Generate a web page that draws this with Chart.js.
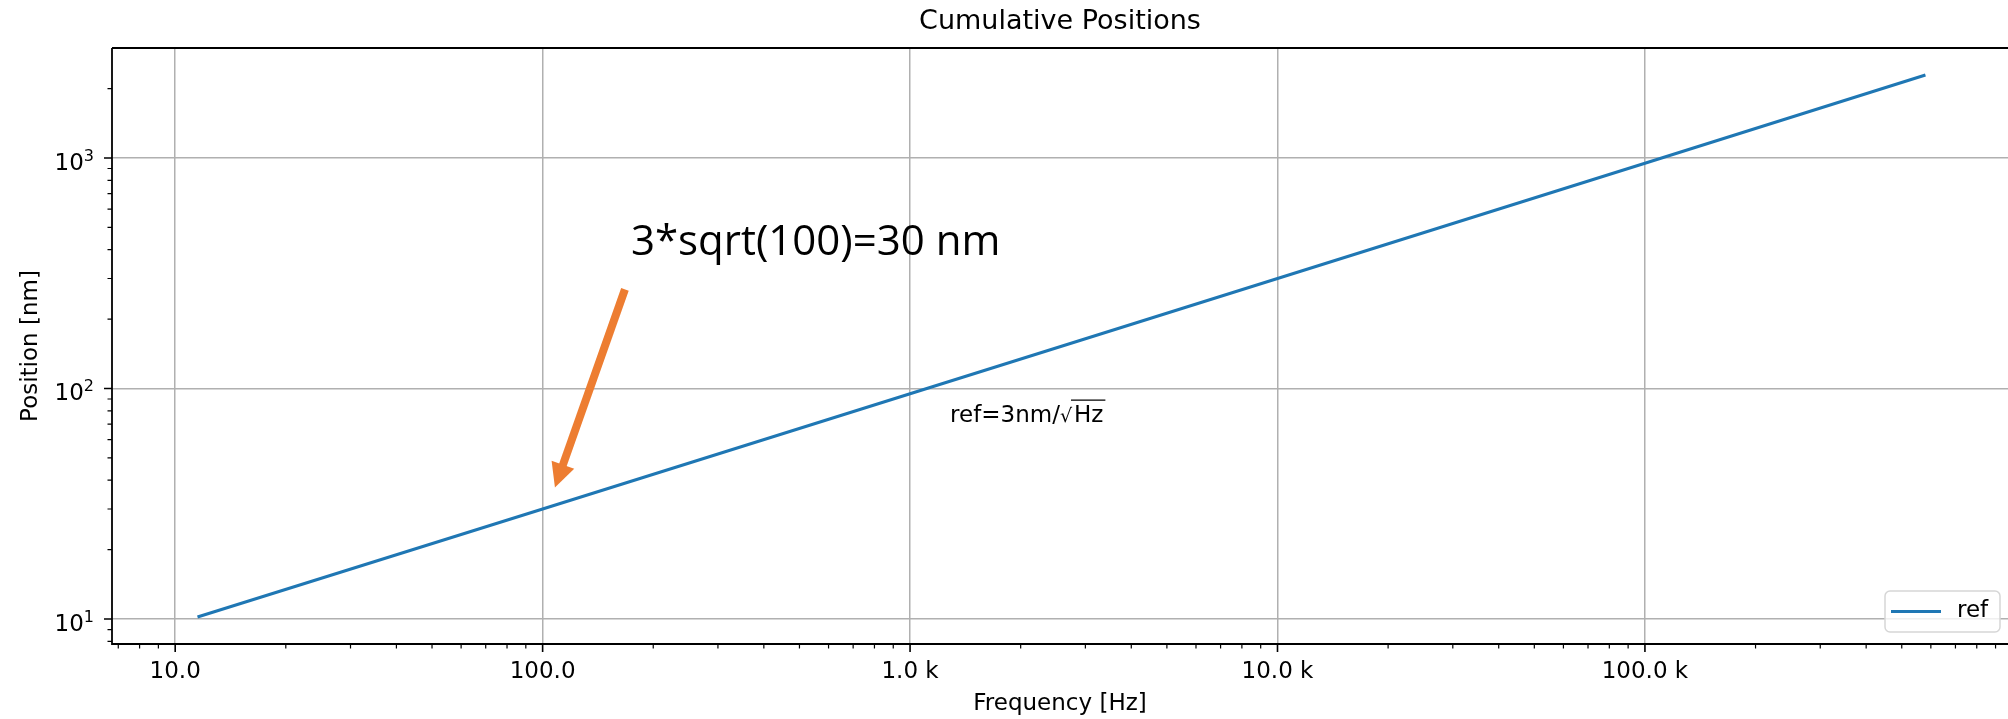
<!DOCTYPE html>
<html>
<head>
<meta charset="utf-8">
<script src="https://cdn.jsdelivr.net/npm/chart.js@4.4.1/dist/chart.umd.min.js"></script>
<style>
  html, body { margin: 0; padding: 0; background: #fff; overflow: hidden; }
  canvas { display: block; }
</style>
</head>
<body>
<canvas id="chart" width="2008" height="719"></canvas>
<script>
// values
const frequencies = [11.5, 100, 1000, 10000, 100000, 580000];
const positions = [10.2, 30.0, 94.9, 300, 949, 2290];

const xTickValues = [10, 100, 1000, 10000, 100000];
const xTickLabels = ["10.0", "100.0", "1.0 k", "10.0 k", "100.0 k"];
const yTickValues = [10, 100, 1000];
const yTickExponents = ["1", "2", "3"];

// annotation anchors in data units
const arrowTail = [167.5, 268.9];
const arrowTip = [108, 37.2];
const noteAnchor = [173.9, 377.6];
const refAnchor = [1285, 71.4];

const FONT = "'DejaVu Sans', sans-serif";

function minorValues(min, max) {
  const out = [];
  for (let d = Math.floor(Math.log10(min)); d <= Math.ceil(Math.log10(max)); d++) {
    for (let k = 2; k <= 9; k++) {
      const v = k * Math.pow(10, d);
      if (v >= min && v <= max) out.push(v);
    }
  }
  return out;
}

const decorations = {
  id: "decorations",
  afterDraw(chart) {
    const ctx = chart.ctx;
    const a = chart.chartArea;
    const xs = chart.scales.x;
    const ys = chart.scales.y;

    ctx.save();
    // spines
    ctx.strokeStyle = "#000";
    ctx.lineWidth = 1.8;
    ctx.beginPath();
    ctx.moveTo(a.left, a.top);
    ctx.lineTo(a.left, a.bottom);
    ctx.lineTo(a.right, a.bottom);
    ctx.moveTo(a.left, a.top);
    ctx.lineTo(a.right, a.top);
    ctx.stroke();

    // tick marks
    ctx.lineWidth = 1.6;
    ctx.beginPath();
    xTickValues.forEach(v => {
      const px = xs.getPixelForValue(v);
      ctx.moveTo(px, a.bottom); ctx.lineTo(px, a.bottom + 8);
    });
    yTickValues.forEach(v => {
      const py = ys.getPixelForValue(v);
      ctx.moveTo(a.left, py); ctx.lineTo(a.left - 8, py);
    });
    ctx.stroke();
    ctx.lineWidth = 1.2;
    ctx.beginPath();
    minorValues(xs.min, xs.max).forEach(v => {
      const px = xs.getPixelForValue(v);
      ctx.moveTo(px, a.bottom); ctx.lineTo(px, a.bottom + 4.5);
    });
    minorValues(ys.min, ys.max).forEach(v => {
      const py = ys.getPixelForValue(v);
      ctx.moveTo(a.left, py); ctx.lineTo(a.left - 4.5, py);
    });
    ctx.stroke();

    // y tick labels as 10^n
    ctx.fillStyle = "#000";
    ctx.textBaseline = "alphabetic";
    ctx.textAlign = "right";
    yTickValues.forEach((v, i) => {
      const py = ys.getPixelForValue(v);
      const right = a.left - 18;
      ctx.font = "16px " + FONT;
      const ew = ctx.measureText(yTickExponents[i]).width;
      ctx.fillText(yTickExponents[i], right, py + 3);
      ctx.font = "23px " + FONT;
      ctx.fillText("10", right - ew, py + 12);
    });

    // title and axis labels
    ctx.textAlign = "center";
    ctx.textBaseline = "middle";
    const cx = (a.left + a.right) / 2;
    ctx.font = "27px " + FONT;
    ctx.fillText("Cumulative Positions", cx, 22);
    ctx.font = "23px " + FONT;
    ctx.fillText("Frequency [Hz]", cx, 704);
    ctx.save();
    ctx.translate(31, (a.top + a.bottom) / 2);
    ctx.rotate(-Math.PI / 2);
    ctx.fillText("Position [nm]", 0, 0);
    ctx.restore();

    // legend, lower right
    const lw = 115, lh = 41;
    const lx = a.right - 8 - lw, ly = a.bottom - 12 - lh;
    ctx.beginPath();
    ctx.roundRect(lx, ly, lw, lh, 5);
    ctx.fillStyle = "rgba(255,255,255,0.8)";
    ctx.fill();
    ctx.strokeStyle = "#d6d6d6";
    ctx.lineWidth = 1.5;
    ctx.stroke();
    ctx.strokeStyle = "#1f77b4";
    ctx.lineWidth = 3;
    ctx.beginPath();
    ctx.moveTo(lx + 6, ly + lh / 2);
    ctx.lineTo(lx + 56, ly + lh / 2);
    ctx.stroke();
    ctx.fillStyle = "#000";
    ctx.textAlign = "left";
    ctx.font = "23px " + FONT;
    ctx.fillText("ref", lx + 72, ly + lh / 2);

    // ref=3nm/sqrt(Hz) text
    ctx.textBaseline = "alphabetic";
    ctx.font = "23px " + FONT;
    let tx = xs.getPixelForValue(refAnchor[0]);
    const ty = ys.getPixelForValue(refAnchor[1]);
    ctx.fillText("ref=3nm/", tx, ty);
    tx += ctx.measureText("ref=3nm/").width;
    ctx.font = "19px " + FONT;
    ctx.fillText("\u221A", tx, ty);
    const sw = ctx.measureText("\u221A").width;
    ctx.font = "23px " + FONT;
    ctx.fillText("Hz", tx + sw + 2, ty);
    const hw = ctx.measureText("Hz").width;
    ctx.strokeStyle = "#000";
    ctx.lineWidth = 1.3;
    ctx.beginPath();
    ctx.moveTo(tx + sw - 1, ty - 22);
    ctx.lineTo(tx + sw + 4 + hw, ty - 22);
    ctx.stroke();

    // big note and orange arrow
    ctx.font = "42px 'Open Sans', sans-serif";
    ctx.fillText("3*sqrt(100)=30 nm",
      xs.getPixelForValue(noteAnchor[0]), ys.getPixelForValue(noteAnchor[1]));

    const x0 = xs.getPixelForValue(arrowTail[0]), y0 = ys.getPixelForValue(arrowTail[1]);
    const x1 = xs.getPixelForValue(arrowTip[0]), y1 = ys.getPixelForValue(arrowTip[1]);
    const len = Math.hypot(x1 - x0, y1 - y0);
    const ux = (x1 - x0) / len, uy = (y1 - y0) / len;
    const headLen = 24, headHalf = 12;
    const bx = x1 - ux * headLen, by = y1 - uy * headLen;
    ctx.strokeStyle = "#ED7D31";
    ctx.fillStyle = "#ED7D31";
    ctx.lineWidth = 8;
    ctx.lineCap = "butt";
    ctx.beginPath();
    ctx.moveTo(x0, y0);
    ctx.lineTo(bx + ux * 2, by + uy * 2);
    ctx.stroke();
    ctx.beginPath();
    ctx.moveTo(x1, y1);
    ctx.lineTo(bx - uy * headHalf, by + ux * headHalf);
    ctx.lineTo(bx + uy * headHalf, by - ux * headHalf);
    ctx.closePath();
    ctx.fill();
    ctx.restore();
  }
};

const ctx = document.getElementById("chart").getContext("2d");

new Chart(ctx, {
  type: "line",
  data: {
    datasets: [
      {
        label: "ref",
        data: frequencies.map((f, i) => ({ x: f, y: positions[i] })),
        borderColor: "#1f77b4",
        borderWidth: 3,
        pointRadius: 0,
        tension: 0,
        fill: false,
      },
    ],
  },
  options: {
    responsive: false,
    animation: false,
    devicePixelRatio: 1,
    layout: { padding: { top: 48, left: 0, right: 0, bottom: 0 } },
    plugins: {
      legend: { display: false },
      title: { display: false },
      tooltip: { enabled: false },
    },
    scales: {
      x: {
        type: "logarithmic",
        min: 6.73,
        max: 973000,
        afterBuildTicks: (s) => { s.ticks = xTickValues.map(v => ({ value: v })); },
        afterFit: (s) => { s.height = 75; },
        border: { display: false },
        grid: { color: "#b0b0b0", lineWidth: 1.5, drawTicks: false },
        ticks: {
          autoSkip: false,
          maxRotation: 0,
          padding: 14,
          color: "#000",
          font: { family: FONT, size: 23 },
          callback: (v, i) => xTickLabels[i],
        },
      },
      y: {
        type: "logarithmic",
        min: 7.79,
        max: 2999,
        afterBuildTicks: (s) => { s.ticks = yTickValues.map(v => ({ value: v })); },
        afterFit: (s) => { s.width = 112; },
        border: { display: false },
        grid: { color: "#b0b0b0", lineWidth: 1.5, drawTicks: false },
        ticks: { display: false },
      },
    },
  },
  plugins: [decorations],
});
</script>
</body>
</html>
